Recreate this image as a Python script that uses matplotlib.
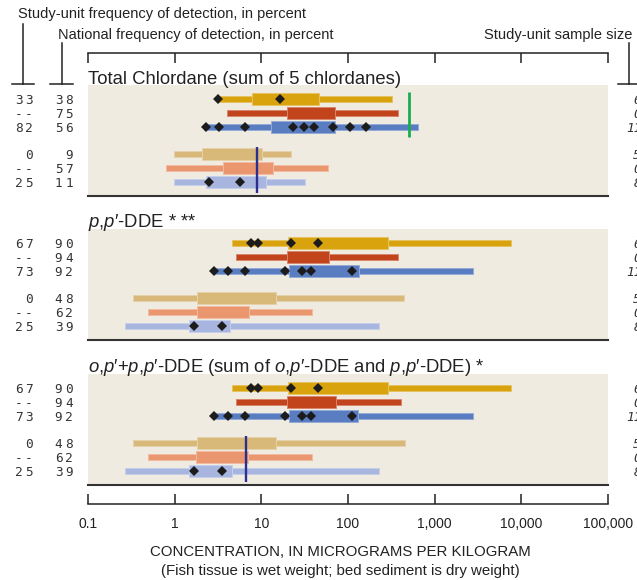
import matplotlib
matplotlib.use("Agg")
import matplotlib.pyplot as plt
from matplotlib.lines import Line2D
from matplotlib.ticker import NullLocator
from matplotlib.colors import to_rgb
from matplotlib.transforms import blended_transform_factory

plt.rcParams['font.family'] = ['Liberation Sans', 'DejaVu Sans']
plt.rcParams['mathtext.fontset'] = 'custom'
plt.rcParams['mathtext.rm'] = 'Liberation Sans'
plt.rcParams['mathtext.it'] = 'Liberation Sans:italic'

# ---------------- data ----------------
tick_values = [0.1, 1, 10, 100, 1000, 10000, 100000]
tick_labels = ["0.1", "1", "10", "100", "1,000", "10,000", "100,000"]

titles = [
    "Total Chlordane (sum of 5 chlordanes)",
    r"$\mathit{p{,}p′}$-DDE * **",
    r"$\mathit{o{,}p′}$+$\mathit{p{,}p′}$-DDE (sum of $\mathit{o{,}p′}$-DDE and $\mathit{p{,}p′}$-DDE) *",
]

# rows: three fish-tissue groups, then three bed-sediment groups
chlordane_min = [3.05, 4.05, 2.2, 0.98, 0.79, 0.97]
chlordane_q25 = [7.74, 20.0, 12.8, 2.08, 3.64, 2.30]
chlordane_q75 = [46.3, 70.8, 70.8, 10.3, 13.7, 11.2]
chlordane_max = [319, 380, 647, 22.0, 59.3, 31.6]
chlordane_sites = [[3.16, 16.4], [], [2.30, 3.27, 6.43, 23.4, 31.3, 40.8, 67.6, 105, 160],
                   [], [], [2.51, 5.67]]
chlordane_fish_guideline = 500
chlordane_sediment_guideline = 8.84

ppdde_min = [4.55, 5.06, 2.79, 0.327, 0.49, 0.267]
ppdde_q25 = [20.5, 19.8, 20.8, 1.82, 1.80, 1.47]
ppdde_q75 = [292, 60.8, 133, 14.8, 7.2, 4.35]
ppdde_max = [7530, 374, 2745, 446, 38.1, 228]
ppdde_sites = [[7.54, 9.08, 22.2, 45.4], [], [2.82, 4.09, 6.48, 18.8, 29.7, 37.7, 111],
               [], [], [1.69, 3.55]]

totdde_min = [4.55, 5.06, 2.79, 0.327, 0.49, 0.267]
totdde_q25 = [20.3, 19.8, 20.6, 1.82, 1.77, 1.47]
totdde_q75 = [292, 72.1, 129, 14.8, 7.1, 4.6]
totdde_max = [7530, 405, 2745, 450, 38.1, 226]
totdde_sites = [[7.54, 9.08, 22.2, 45.4], [], [2.82, 4.09, 6.48, 18.8, 29.7, 37.7, 111],
                [], [], [1.69, 3.5]]
totdde_sediment_guideline = 6.71

chlordane_study_freq = ["33", "--", "82", "0", "--", "25"]
chlordane_national_freq = ["38", "75", "56", "9", "57", "11"]
dde_study_freq = ["67", "--", "73", "0", "--", "25"]
dde_national_freq = ["90", "94", "92", "48", "62", "39"]
sample_sizes = ["6", "0", "11", "5", "0", "8"]

# ---------------- styling ----------------
W, H = 637, 580
row_colors = ['#D9A30E', '#C1441D', '#5A7DC1', '#D9B97A', '#EA976F', '#A7B5DF']
panel_bg = '#EFEBE1'
ink = '#222222'
row_y = [0, 1, 2, 3.93, 4.93, 5.93]
panel_tops = [85, 229, 374]
panel_h = 111
plot_left, plot_w = 88, 520


def lighten(c, f=0.35):
    r, g, b = to_rgb(c)
    return (r + (1 - r) * f, g + (1 - g) * f, b + (1 - b) * f)


def fx(px):
    return px / W


def fy(py):
    return 1 - py / H


fig = plt.figure(figsize=(W / 100, H / 100), dpi=100)

panels = [
    dict(mins=chlordane_min, q25=chlordane_q25, q75=chlordane_q75, maxs=chlordane_max,
         sites=chlordane_sites, fish_guide=chlordane_fish_guideline,
         sed_guide=chlordane_sediment_guideline,
         study=chlordane_study_freq, national=chlordane_national_freq),
    dict(mins=ppdde_min, q25=ppdde_q25, q75=ppdde_q75, maxs=ppdde_max,
         sites=ppdde_sites, fish_guide=None, sed_guide=None,
         study=dde_study_freq, national=dde_national_freq),
    dict(mins=totdde_min, q25=totdde_q25, q75=totdde_q75, maxs=totdde_max,
         sites=totdde_sites, fish_guide=None, sed_guide=totdde_sediment_guideline,
         study=dde_study_freq, national=dde_national_freq),
]


def spaced(ax, right_px, y, s, pitch=10.3, **kw):
    """Right-aligned monospaced label with a fixed character pitch."""
    trans = blended_transform_factory(fig.transFigure, ax.transData)
    n = len(s)
    for i, ch in enumerate(s):
        cx = right_px - (n - i - 0.5) * pitch
        ax.text(fx(cx), y, ch, transform=trans, ha='center', va='baseline',
                clip_on=False, **kw)


for k, (p, top, title) in enumerate(zip(panels, panel_tops, titles)):
    ax = fig.add_axes([fx(plot_left), fy(top + panel_h), fx(plot_w), panel_h / H])
    ax.set_xscale('log')
    ax.set_xlim(tick_values[0], tick_values[-1])
    ax.set_ylim(6.93, -1)
    ax.set_facecolor(panel_bg)
    for side in ('top', 'left', 'right'):
        ax.spines[side].set_visible(False)
    ax.spines['bottom'].set_color('#333333')
    ax.spines['bottom'].set_linewidth(1.5)
    ax.xaxis.set_minor_locator(NullLocator())
    ax.set_xticks([])
    ax.set_yticks([])

    for i, y in enumerate(row_y):
        c = row_colors[i]
        thick_h = 0.9 if i < 3 else 0.86
        ax.barh(y, p['maxs'][i] - p['mins'][i], left=p['mins'][i], height=0.36,
                color=c, edgecolor=lighten(c), linewidth=0.7, zorder=2)
        ax.barh(y, p['q75'][i] - p['q25'][i], left=p['q25'][i], height=thick_h,
                color=c, edgecolor=lighten(c), linewidth=0.7, zorder=3)
        if p['sites'][i]:
            ax.plot(p['sites'][i], [y] * len(p['sites'][i]), linestyle='none',
                    marker='D', ms=5.0, mew=0, color='#1c1c1c', zorder=5)

        spaced(ax, 34, y + 0.36, p['study'][i], family='DejaVu Sans Mono',
               fontsize=9.2, color='#333333')
        spaced(ax, 74, y + 0.36, p['national'][i], family='DejaVu Sans Mono',
               fontsize=9.2, color='#333333')
        trans = blended_transform_factory(fig.transFigure, ax.transData)
        ax.text(fx(641), y + 0.36, sample_sizes[i], transform=trans, ha='right',
                va='baseline', family='DejaVu Sans Mono', style='italic',
                fontsize=9.2, color='#333333', clip_on=False)

    if p['fish_guide'] is not None:
        ax.vlines(p['fish_guide'], -0.5, 2.72, color='#19AD4E', lw=2.0, zorder=6)
    if p['sed_guide'] is not None:
        ax.vlines(p['sed_guide'], 3.43, 6.75, color='#2B2F8F', lw=1.7, zorder=6)

    fig.text(fx(plot_left), fy(top - 1.5), title, ha='left', va='baseline',
             fontsize=13.3, color=ink)

# top scale ruler
ax_top = fig.add_axes([fx(plot_left), fy(63), fx(plot_w), 10 / H])
ax_top.set_xscale('log')
ax_top.set_xlim(tick_values[0], tick_values[-1])
ax_top.patch.set_visible(False)
for side in ('bottom', 'left', 'right'):
    ax_top.spines[side].set_visible(False)
ax_top.spines['top'].set_linewidth(1.1)
ax_top.spines['top'].set_color(ink)
ax_top.set_yticks([])
ax_top.xaxis.set_minor_locator(NullLocator())
ax_top.set_xticks(tick_values)
ax_top.tick_params(axis='x', direction='in', length=7.3, width=1.1, color=ink,
                   top=True, bottom=False, labeltop=False, labelbottom=False)

# bottom scale ruler with labels
ax_bot = fig.add_axes([fx(plot_left), fy(504), fx(plot_w), 10 / H])
ax_bot.set_xscale('log')
ax_bot.set_xlim(tick_values[0], tick_values[-1])
ax_bot.patch.set_visible(False)
for side in ('top', 'left', 'right'):
    ax_bot.spines[side].set_visible(False)
ax_bot.spines['bottom'].set_linewidth(1.1)
ax_bot.spines['bottom'].set_color(ink)
ax_bot.set_yticks([])
ax_bot.xaxis.set_minor_locator(NullLocator())
ax_bot.set_xticks(tick_values, tick_labels)
ax_bot.tick_params(axis='x', direction='in', length=7.3, width=1.1, color=ink,
                   labelsize=10, labelcolor=ink, pad=9)

fig.text(fx(340), fy(556), "CONCENTRATION, IN MICROGRAMS PER KILOGRAM",
         ha='center', va='baseline', fontsize=10.8, color=ink)
fig.text(fx(340), fy(575), "(Fish tissue is wet weight; bed sediment is dry weight)",
         ha='center', va='baseline', fontsize=10.8, color=ink)

# column headers and leader lines
fig.text(fx(18), fy(18.3), "Study-unit frequency of detection, in percent",
         ha='left', va='baseline', fontsize=10.5, color=ink)
fig.text(fx(58), fy(39), "National frequency of detection, in percent",
         ha='left', va='baseline', fontsize=10.5, color=ink)
fig.text(fx(632), fy(39), "Study-unit sample size",
         ha='right', va='baseline', fontsize=10.5, color=ink)

leaders = [
    ([23, 23], [24, 84]), ([12, 34], [84, 84]),
    ([62, 62], [43, 84]), ([50, 73], [84, 84]),
    ([629, 629], [43, 84]), ([618, 640], [84, 84]),
]
for xs, ys in leaders:
    fig.add_artist(Line2D([fx(v) for v in xs], [fy(v) for v in ys],
                          transform=fig.transFigure, color=ink, lw=1.1))

fig.savefig("out.png", dpi=100, facecolor='white')
